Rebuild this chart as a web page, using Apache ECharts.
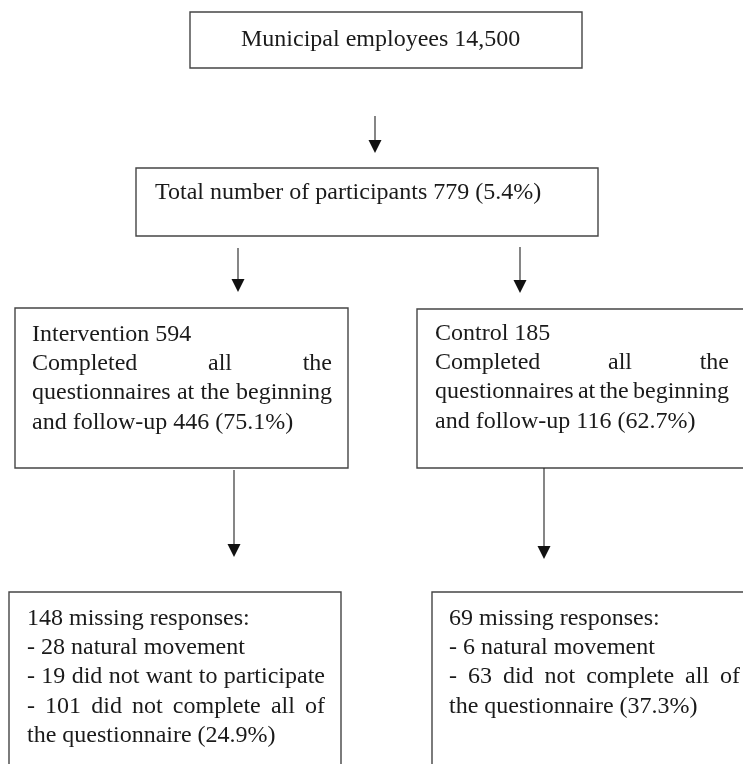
<!DOCTYPE html>
<html>
<head>
<meta charset="utf-8">
<script src="https://cdn.jsdelivr.net/npm/echarts@6/dist/echarts.min.js"></script>
<style>
  html, body { margin: 0; padding: 0; background: #fff; }
  #main { width: 743px; height: 764px; }
</style>
</head>
<body>
<div id="main"></div>
<script>
  // flow counts
  const employees = '14,500'
  const participants = [779, '5.4%']
  const intervention = [594, 446, '75.1%']
  const control = [185, 116, '62.7%']
  const missingIntervention = [148, 28, 19, 101, '24.9%']
  const missingControl = [69, 6, 63, '37.3%']

  // box text, line by line; true = justified line
  const topLines = [['Municipal employees ' + employees, false]]
  const totalLines = [['Total number of participants ' + participants[0] + ' (' + participants[1] + ')', false]]
  const interventionLines = [
    ['Intervention ' + intervention[0], false],
    ['Completed all the', true],
    ['questionnaires at the beginning', true],
    ['and follow-up ' + intervention[1] + ' (' + intervention[2] + ')', false]
  ]
  const controlLines = [
    ['Control ' + control[0], false],
    ['Completed all the', true],
    ['questionnaires at the beginning', true],
    ['and follow-up ' + control[1] + ' (' + control[2] + ')', false]
  ]
  const missIntLines = [
    [missingIntervention[0] + ' missing responses:', false],
    ['- ' + missingIntervention[1] + ' natural movement', false],
    ['- ' + missingIntervention[2] + ' did not want to participate', true],
    ['- ' + missingIntervention[3] + ' did not complete all of', true],
    ['the questionnaire (' + missingIntervention[4] + ')', false]
  ]
  const missCtrlLines = [
    [missingControl[0] + ' missing responses:', false],
    ['- ' + missingControl[1] + ' natural movement', false],
    ['- ' + missingControl[2] + ' did not complete all of', true],
    ['the questionnaire (' + missingControl[3] + ')', false]
  ]

  const FONT_SIZE = 24
  const FONT_FAMILY = '"Liberation Serif", "DejaVu Serif", serif'
  const TEXT_COLOR = '#1a1a1a'
  const LINE_H = 29.3

  const ctx = document.createElement('canvas').getContext('2d')
  ctx.font = FONT_SIZE + 'px ' + FONT_FAMILY
  const measure = s => ctx.measureText(s).width

  const elements = []

  function box(x, y, w, h) {
    elements.push({
      type: 'rect',
      shape: { x: x, y: y, width: w, height: h },
      style: { fill: 'none', stroke: '#454545', lineWidth: 1.4 }
    })
  }

  function word(s, x, baseline) {
    elements.push({
      type: 'text',
      x: x,
      y: baseline - FONT_SIZE * 0.32,
      style: {
        text: s,
        fill: TEXT_COLOR,
        font: FONT_SIZE + 'px ' + FONT_FAMILY,
        align: 'left',
        verticalAlign: 'middle'
      }
    })
  }

  // writes lines, justified ones stretched to width w
  function writeLines(lines, x, firstBaseline, w) {
    lines.forEach((ln, i) => {
      const base = firstBaseline + i * LINE_H
      if (!ln[1]) {
        word(ln[0], x, base)
        return
      }
      const words = ln[0].split(' ')
      const widths = words.map(measure)
      const sum = widths.reduce((a, b) => a + b, 0)
      const gap = (w - sum) / (words.length - 1)
      let cx = x
      words.forEach((wd, j) => {
        word(wd, cx, base)
        cx += widths[j] + gap
      })
    })
  }

  function arrow(x, y1, y2) {
    elements.push({
      type: 'line',
      shape: { x1: x, y1: y1, x2: x, y2: y2 - 10 },
      style: { stroke: '#222', lineWidth: 1.1 }
    })
    elements.push({
      type: 'polygon',
      shape: { points: [[x - 6.5, y2 - 13], [x + 6.5, y2 - 13], [x, y2]] },
      style: { fill: '#111' }
    })
  }

  box(190, 12, 392, 56)
  writeLines(topLines, 241, 47, 0)

  arrow(375, 116, 153)

  box(136, 168, 462, 68)
  writeLines(totalLines, 155, 200, 0)

  arrow(238, 248, 292)
  arrow(520, 247, 293)

  box(15, 308, 333, 160)
  writeLines(interventionLines, 32, 342, 300)

  box(417, 309, 360, 159)
  writeLines(controlLines, 435, 341, 294)

  arrow(234, 470, 557)
  arrow(544, 468, 559)

  box(9, 592, 332, 200)
  writeLines(missIntLines, 27, 626, 298)

  box(432, 592, 360, 200)
  writeLines(missCtrlLines, 449, 626, 291)

  const chart = echarts.init(document.getElementById('main'))
  chart.setOption({
    backgroundColor: '#fff',
    animation: false,
    graphic: { elements: elements }
  })
  window.addEventListener('resize', () => chart.resize())
</script>
</body>
</html>
